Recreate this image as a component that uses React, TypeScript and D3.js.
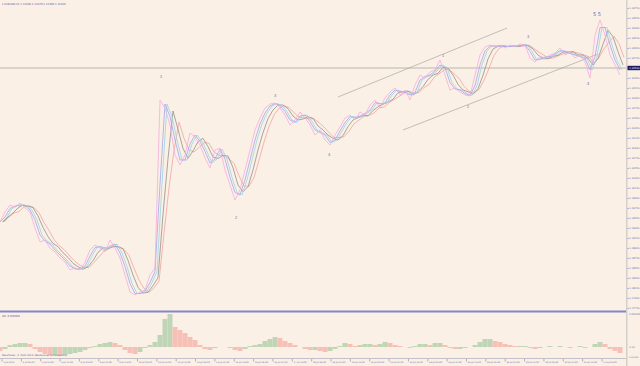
import React from 'react';
import * as d3 from 'd3';

// EURUSD H1 closes, one sample every few bars
const closes = [
  1.2948, 1.2968, 1.2982, 1.2978, 1.2986, 1.2976, 1.2968, 1.2936, 1.2908, 1.2912,
  1.2896, 1.2888, 1.2876, 1.2868, 1.2852, 1.2856, 1.2852, 1.2868, 1.2892, 1.2902,
  1.2896, 1.2888, 1.2912, 1.2896, 1.2876, 1.2842, 1.2808, 1.2802, 1.2808, 1.2812,
  1.2842, 1.2856, 1.3192, 1.3176, 1.3142, 1.3082, 1.3062, 1.3082, 1.3126, 1.3118,
  1.3102, 1.3076, 1.3056, 1.3092, 1.3096, 1.3052, 1.3022, 1.2992, 1.3012, 1.3052,
  1.3092, 1.3132, 1.3156, 1.3176, 1.3184, 1.3186, 1.3176, 1.3162, 1.3142, 1.3152,
  1.3168, 1.3156, 1.3142, 1.3122, 1.3132, 1.3112, 1.3102, 1.3122, 1.3138, 1.3156,
  1.3162, 1.3152, 1.3168, 1.3162, 1.3182, 1.3192, 1.3176, 1.3196, 1.3208, 1.3216,
  1.3202, 1.3212, 1.3192, 1.3222, 1.3242, 1.3236, 1.3248, 1.3252, 1.3272, 1.3242,
  1.3212, 1.3216, 1.3208, 1.3202, 1.3200, 1.3242, 1.3282, 1.3298, 1.3302, 1.3298,
  1.3302, 1.3296, 1.3302, 1.3298, 1.3304, 1.3302, 1.3276, 1.3268, 1.3280, 1.3276,
  1.3282, 1.3286, 1.3296, 1.3282, 1.3288, 1.3276, 1.3282, 1.3268, 1.3236, 1.3322,
  1.3352, 1.3322, 1.3282, 1.3262, 1.3242,
];

// Awesome Oscillator values on the same samples
const aoValues = [
  -0.0006, -0.0003, 0.0003, 0.00045, 0.0006, 0.0006, 0.00045, -0.0003, -0.00075, -0.00105,
  -0.0012, -0.0012, -0.00135, -0.0012, -0.00105, -0.0009, -0.00075, -0.00045, -0.00015, 0.00015,
  0.00045, 0.0006, 0.00075, 0.0006, 0.0003, -0.00045, -0.0009, -0.00105, -0.00075, -0.00015,
  0.0003, 0.00075, 0.0018, 0.0042, 0.00495, 0.003, 0.00255, 0.0021, 0.0015, 0.00105,
  0.0003, -0.0003, -0.00045, -0.00015, 0.0, 0.0, -0.00015, -0.00045, -0.0006, -0.0003,
  0.00015, 0.0003, 0.00045, 0.0009, 0.0012, 0.0015, 0.00135, 0.0009, 0.0006, 0.0003,
  0.0, -0.0003, -0.00045, -0.00045, -0.0006, -0.00075, -0.0006, -0.0003, 0.00015, 0.0006,
  0.00045, 0.00015, 0.0003, 0.00045, 0.00045, 0.0003, 0.00045, 0.00075, 0.0006, 0.0003,
  0.00015, 0.0, -0.00015, 0.00015, 0.00045, 0.00045, 0.0003, 0.0006, 0.0006, 0.0003,
  -0.00015, -0.0003, -0.0003, -0.00015, 0.0, 0.0003, 0.00075, 0.0012, 0.0012, 0.0009,
  0.00075, 0.00045, 0.0003, 0.00015, 0.00015, 0.00015, -0.00015, -0.0003, -0.00015, 0.0,
  0.00015, 0.0, 0.00015, 0.0, -0.00015, 0.0, 0.00015, -0.00015, 0.0, 0.00045,
  0.00075, 0.00045, -0.0003, -0.0006, -0.0009,
];

const priceTicks = [
  1.3375, 1.3355, 1.3335, 1.3315, 1.3295, 1.3275, 1.3255, 1.3235, 1.3215, 1.3195,
  1.3175, 1.3155, 1.3135, 1.3115, 1.3095, 1.3075, 1.3055, 1.3035, 1.3015, 1.2995,
  1.2975, 1.2955, 1.2935, 1.2915, 1.2895, 1.2875, 1.2855, 1.2835, 1.2815, 1.2795,
  1.2775,
];

const timeLabels = [
  '3 Jul 2013', '4 Jul 05:00', '4 Jul 21:00', '5 Jul 13:00', '8 Jul 05:00', '8 Jul 21:00',
  '9 Jul 13:00', '10 Jul 05:00', '10 Jul 21:00', '11 Jul 13:00', '12 Jul 05:00', '12 Jul 21:00',
  '15 Jul 13:00', '16 Jul 05:00', '16 Jul 21:00', '17 Jul 13:00', '18 Jul 05:00', '18 Jul 21:00',
  '19 Jul 13:00', '22 Jul 05:00', '22 Jul 21:00', '23 Jul 13:00', '24 Jul 05:00', '24 Jul 21:00',
  '25 Jul 13:00', '26 Jul 05:00', '26 Jul 21:00', '29 Jul 13:00', '30 Jul 05:00', '30 Jul 21:00',
  '31 Jul 13:00', '1 Aug 05:00',
];

// Elliott wave marks: sample index, price
const waveLabels = [
  { text: '1', i: 32.2, p: 1.3238 },
  { text: '2', i: 47.2, p: 1.2956 },
  { text: '3', i: 55, p: 1.3200 },
  { text: '4', i: 65.8, p: 1.3082 },
  { text: '1', i: 88.6, p: 1.3280 },
  { text: '2', i: 93.6, p: 1.3178 },
  { text: '3', i: 105.6, p: 1.3318 },
  { text: '4', i: 117.6, p: 1.3224 },
  { text: '5 5', i: 119.4, p: 1.3362 },
];

const channelLines = [
  { i1: 67.6, p1: 1.3198, i2: 101.4, p2: 1.3336 },
  { i1: 80.6, p1: 1.3132, i2: 119.6, p2: 1.3284 },
];

const bidPrice = 1.3256;

const maLines = [
  { period: 4, dx: 4, color: '#f3a49e' },
  { period: 3, dx: 3, color: '#94908c' },
  { period: 2, dx: 2, color: '#9ad6e0' },
  { period: 2, dx: 0, color: '#a4a6f2' },
  { period: 1, dx: 0, color: '#f6acdf' },
];

const W = 640;
const H = 366;
const PLOT_R = 626;
const MAIN_B = 311;
const AO_T = 313;
const AO_B = 358;
const BG = '#faf0e6';
const AXIS_TXT = '#6a6aa8';
const FONT = 'DejaVu Sans, sans-serif';

function movingAverage(values: number[], period: number) {
  return values.map((_, i) => d3.mean(values.slice(Math.max(0, i - period + 1), i + 1)) as number);
}

export default function App() {
  const x = d3.scaleLinear().domain([0, closes.length - 1]).range([0, 620]);
  const y = d3.scaleLinear().domain([1.3392, 1.277]).range([0, MAIN_B]);
  const aoY = d3.scaleLinear().domain([-0.00165, 0.0051]).range([AO_B, AO_T]);
  const tx = d3.scaleLinear().domain([0, timeLabels.length - 1]).range([2, 602]);

  const line = d3.line<number>().x((_, i) => x(i)).y(d => y(d));
  const step = x(1) - x(0);

  return (
    <div style={{ position: 'fixed', left: 0, top: 0, width: W, height: H, background: BG }}>
      <svg width={W} height={H} style={{ display: 'block' }} fontFamily={FONT}>
        <rect width={W} height={H} fill={BG} />
        <defs>
          <clipPath id="mainClip"><rect x={0} y={0} width={PLOT_R} height={MAIN_B} /></clipPath>
          <clipPath id="aoClip"><rect x={0} y={AO_T} width={PLOT_R} height={AO_B - AO_T} /></clipPath>
        </defs>

        {/* main price panel */}
        <g clipPath="url(#mainClip)">
          <line x1={0} x2={PLOT_R} y1={y(bidPrice)} y2={y(bidPrice)} stroke="#bab6b2" strokeWidth={1} />
          {channelLines.map((c, k) => (
            <line key={k} x1={x(c.i1)} y1={y(c.p1)} x2={x(c.i2)} y2={y(c.p2)} stroke="#aaa8a6" strokeWidth={0.7} />
          ))}
          {maLines.map((m, k) => (
            <path key={k} d={line(movingAverage(closes, m.period)) || ''} transform={`translate(${m.dx},0)`}
              fill="none" stroke={m.color} strokeWidth={0.8} />
          ))}
          {waveLabels.map((w, k) => (
            <text key={k} x={x(w.i)} y={y(w.p)} fontSize={w.text === '5 5' ? 5 : 4.2}
              fill={w.text === '5 5' ? '#5a5ad0' : '#7c7cae'}
              textAnchor="middle" dominantBaseline="middle">{w.text}</text>
          ))}
        </g>
        <text x={2} y={5} fontSize={2.6} fill="#5c5c9c">▾ EURUSD,H1  1.32440 1.32470 1.32400 1.32420</text>

        {/* separator between panels */}
        <line x1={0} x2={PLOT_R} y1={MAIN_B + 0.5} y2={MAIN_B + 0.5} stroke="#8484c8" strokeWidth={2} />

        {/* AO panel */}
        <g clipPath="url(#aoClip)">
          {aoValues.map((v, i) => {
            const up = i === 0 ? v >= 0 : v >= aoValues[i - 1];
            const y0 = aoY(0);
            const yv = aoY(v);
            return (
              <rect key={i} x={x(i) - step / 2} width={step} y={Math.min(y0, yv)} height={Math.abs(y0 - yv)}
                fill={up ? '#c0d5b5' : '#f7c0b6'} />
            );
          })}
        </g>
        <text x={2} y={316.5} fontSize={2.6} fill="#5c5c9c">AO -0.000900</text>
        <text x={2} y={355.5} fontSize={2.4} fill="#5c5c9c">MetaTrader, © 2001-2013, MetaQuotes Software Corp.</text>

        {/* right axis */}
        <rect x={PLOT_R} y={0} width={1.5} height={H} fill="#d6d0ca" />
        {priceTicks.filter(p => Math.abs(y(p) - y(bidPrice)) > 4).map((p, k) => (
          <g key={k}>
            <line x1={PLOT_R + 1.5} x2={PLOT_R + 3} y1={y(p)} y2={y(p)} stroke={AXIS_TXT} strokeWidth={0.5} />
            <text x={PLOT_R + 3.3} y={y(p)} fontSize={2.5} fill={AXIS_TXT} dominantBaseline="middle">{p.toFixed(5)}</text>
          </g>
        ))}
        <rect x={PLOT_R + 1.5} y={y(bidPrice) - 2.2} width={W - PLOT_R} height={4.4} fill="#1c1c6c" />
        <text x={PLOT_R + 3.3} y={y(bidPrice)} fontSize={2.5} fill="#ffffff" dominantBaseline="middle">{bidPrice.toFixed(5)}</text>
        <text x={PLOT_R + 3.3} y={AO_T + 1.8} fontSize={2.3} fill={AXIS_TXT} dominantBaseline="middle">0.005100</text>
        <text x={PLOT_R + 3.3} y={aoY(0)} fontSize={2.5} fill={AXIS_TXT} dominantBaseline="middle">0.00</text>
        <text x={PLOT_R + 2.2} y={AO_B - 1} fontSize={2.0} fill={AXIS_TXT} dominantBaseline="middle">-0.001650</text>

        {/* time axis */}
        <line x1={0} x2={PLOT_R} y1={AO_B + 0.5} y2={AO_B + 0.5} stroke="#c4c0c8" strokeWidth={1} />
        {timeLabels.map((t, k) => (
          <g key={k}>
            <line x1={tx(k)} x2={tx(k)} y1={AO_B + 1} y2={AO_B + 3.5} stroke={AXIS_TXT} strokeWidth={0.5} />
            <text x={tx(k) + 1.2} y={AO_B + 4.5} fontSize={2.2} fill={AXIS_TXT} dominantBaseline="middle">{t}</text>
          </g>
        ))}
      </svg>
    </div>
  );
}
